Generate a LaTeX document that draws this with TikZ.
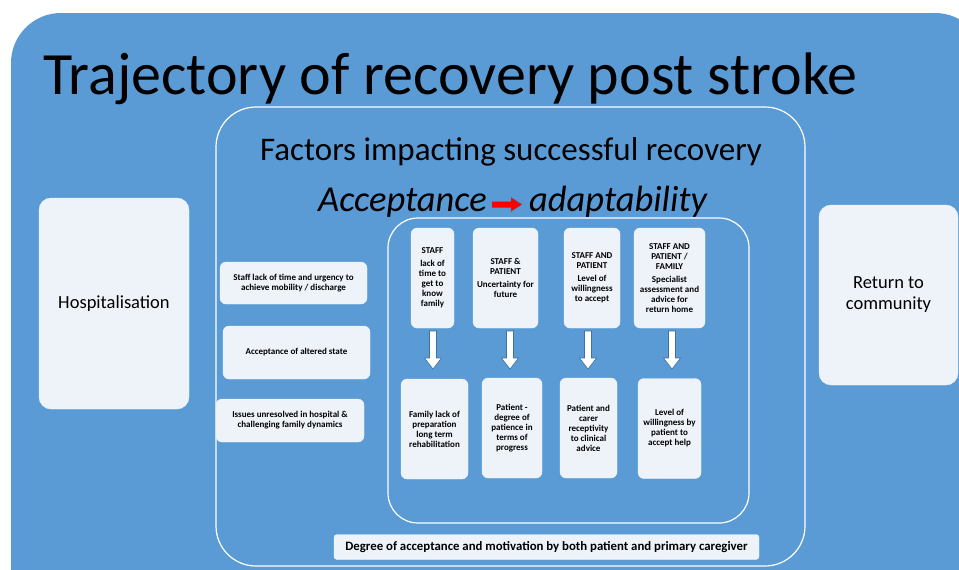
\documentclass[tikz,border=0pt]{standalone}
\usepackage{fontspec}
\setmainfont{Carlito}
\usetikzlibrary{calc}
\definecolor{bgblue}{HTML}{5B9BD5}
\definecolor{boxfill}{HTML}{EEF3FA}
\definecolor{arrline}{HTML}{41719C}
\newcommand\blkdown[3]{% x, ytop, ybottom
  \draw[fill=white, draw=arrline, line width=0.6pt]
    (#1-3.5,#2) -- (#1+3.5,#2) -- (#1+3.5,#3-11) -- (#1+8.5,#3-11) -- (#1,#3)
    -- (#1-8.5,#3-11) -- (#1-3.5,#3-11) -- cycle;}
\begin{document}
\begin{tikzpicture}[x=1pt,y=-1pt,
  box/.style={draw=boxfill, line width=0.4pt, fill=boxfill, rounded corners=6pt,
    inner sep=0pt, align=center, font=\fontsize{9}{10}\selectfont\bfseries},
  bigbox/.style={draw=boxfill, fill=boxfill, rounded corners=12pt, inner sep=0pt,
    align=center, font=\fontsize{18.5}{21}\selectfont},
  frame/.style={draw=white, line width=1.2pt}]
\clip (0,0) rectangle (959,570);
\fill[white] (0,0) rectangle (959,570);
\fill[bgblue, rounded corners=50pt] (11,13) rectangle (985,640);

\node[anchor=base west, font=\fontsize{60}{60}\selectfont, inner sep=0pt] (title) at (43,94) {Trajectory of recovery post stroke};

\draw[frame, rounded corners=40pt] (216,107) rectangle (805,566);
\node[font=\fontsize{33}{35}\selectfont, inner sep=0pt, anchor=base] (factors) at (511,160) {Factors impacting successful recovery};
\node[font=\fontsize{36.5}{38}\selectfont\itshape, inner sep=0pt, anchor=base east] (acc) at (487,211) {Acceptance};
\node[font=\fontsize{36.5}{38}\selectfont\itshape, inner sep=0pt, anchor=base west] (ada) at (529,211) {adaptability};
\draw[fill=red, draw=arrline, line width=0.4pt]
  (492,201.5) -- (511,201.5) -- (511,197.5) -- (522,204.5) -- (511,211.5) -- (511,207.5) -- (492,207.5) -- cycle;

\draw[frame, rounded corners=30pt] (388,218) rectangle (749,523);

\node[bigbox, minimum width=150, minimum height=211] (hosp) at (114,303.5) {Hospitalisation};
\node[bigbox, minimum width=139, minimum height=180] (ret) at (888.5,295) {Return to\\community};

\node[box, minimum width=147, minimum height=42] (la) at (293.5,283) {Staff lack of time and urgency to\\achieve mobility / discharge};
\node[box, minimum width=147, minimum height=53] (lb) at (296.5,352.5) {Acceptance of altered state};
\node[box, minimum width=148, minimum height=43] (lc) at (290,420.5) {Issues unresolved in hospital \&\\challenging family dynamics};

\node[box, minimum width=43, minimum height=100] (t1) at (432.5,278) {STAFF\\[3pt]lack of\\time to\\get to\\know\\family};
\node[box, minimum width=65, minimum height=100] (t2) at (505.5,278) {STAFF \&\\PATIENT\\[3pt]Uncertainty for\\future};
\node[box, minimum width=56, minimum height=100] (t3) at (592,278) {STAFF AND\\PATIENT\\[3pt]Level of\\willingness\\to accept};
\node[box, minimum width=71, minimum height=100] (t4) at (669.5,278) {STAFF AND\\PATIENT /\\FAMILY\\[3pt]Specialist\\assessment and\\advice for\\return home};

\node[box, minimum width=67, minimum height=100] (b1) at (434.5,429) {Family lack of\\preparation\\long term\\rehabilitation};
\node[box, minimum width=60, minimum height=100] (b2) at (512,428) {Patient -\\degree of\\patience in\\terms of\\progress};
\node[box, minimum width=57, minimum height=100] (b3) at (588.5,428) {Patient and\\carer\\receptivity\\to clinical\\advice};
\node[box, minimum width=63, minimum height=100] (b4) at (669.5,428.5) {Level of\\willingness by\\patient to\\accept help};

\blkdown{433}{331}{369}
\blkdown{510}{331}{369}
\blkdown{588}{331}{369}
\blkdown{672}{331}{369}

\node[box, rounded corners=3pt, minimum width=425, minimum height=25, font=\fontsize{12.8}{14}\selectfont\bfseries] (deg) at (546.5,547) {Degree of acceptance and motivation by both patient and primary caregiver};
\end{tikzpicture}
\end{document}
